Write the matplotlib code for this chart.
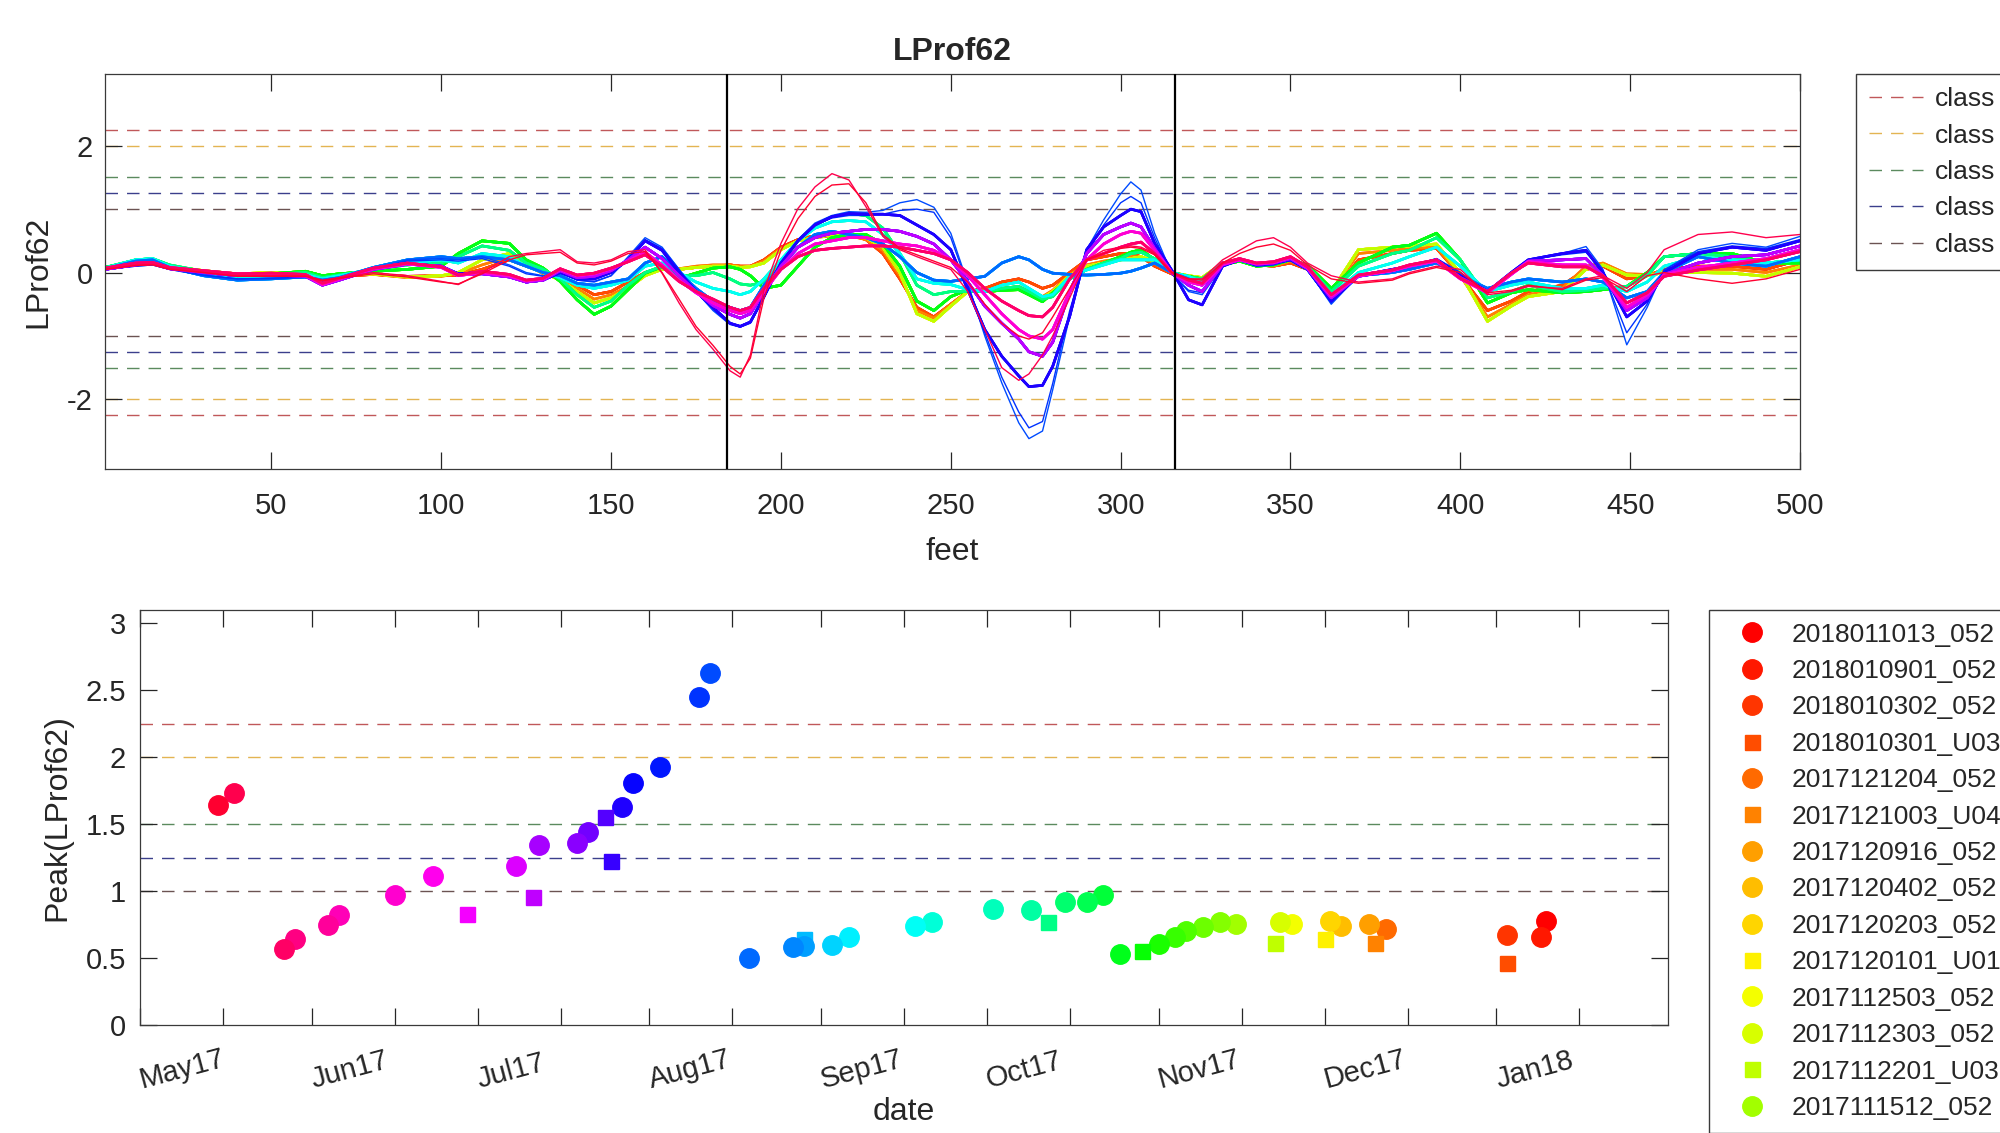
import numpy as np
import pandas as pd
import matplotlib
matplotlib.use("Agg")
import matplotlib.pyplot as plt
import matplotlib.dates as mdates
from matplotlib.lines import Line2D
from matplotlib.ticker import FormatStrFormatter

plt.rcParams["font.family"] = ["Liberation Sans", "DejaVu Sans"]
plt.rcParams["axes.unicode_minus"] = False

# ---- top panel: LProf62 profiles along the track ----
feet = [1, 10, 15, 20, 30, 40, 50, 60, 65, 70,
        80, 90, 100, 105, 112, 120, 125, 130, 135, 140,
        145, 150, 155, 160, 165, 170, 175, 180, 185, 188,
        191, 195, 200, 205, 210, 215, 220, 225, 230, 235,
        240, 245, 250, 255, 260, 265, 270, 273, 277, 280,
        285, 290, 295, 300, 303, 306, 310, 315, 320, 324,
        330, 335, 340, 345, 350, 355, 362, 370, 380, 385,
        393, 400, 408, 415, 420, 430, 437, 442, 449, 455,
        460, 470, 480, 490, 500]

prof_may_a = [0.05, 0.12, 0.13, 0.06, 0.0, -0.05, -0.05, -0.05, -0.12, -0.08,
              0.0, -0.05, -0.14, -0.19, 0.0, 0.25, 0.3, 0.33, 0.36, 0.17,
              0.15, 0.2, 0.33, 0.36, -0.01, -0.48, -0.9, -1.21, -1.55, -1.65,
              -1.3, -0.27, 0.46, 1.01, 1.35, 1.56, 1.46, 1.04, 0.57, 0.36,
              0.25, 0.15, 0.05, -0.3, -0.9, -1.5, -1.7, -1.6, -1.3, -1.0,
              -0.4, 0.2, 0.35, 0.4, 0.42, 0.4, 0.3, 0.0, -0.1, -0.1,
              0.2, 0.35, 0.5, 0.55, 0.4, 0.15, -0.05, -0.15, -0.1, 0.0,
              0.1, 0.05, -0.35, -0.3, -0.22, -0.25, -0.1, -0.05, -0.25, 0.0,
              0.36, 0.6, 0.64, 0.55, 0.6]
prof_may_b = [0.05, 0.11, 0.12, 0.05, 0.0, -0.06, -0.06, -0.06, -0.13, -0.09,
              -0.02, -0.07, -0.15, -0.18, -0.02, 0.2, 0.28, 0.3, 0.32, 0.15,
              0.12, 0.18, 0.3, 0.33, 0.0, -0.42, -0.85, -1.15, -1.48, -1.6,
              -1.35, -0.4, 0.35, 0.85, 1.2, 1.38, 1.4, 1.1, 0.6, 0.38,
              0.28, 0.18, 0.08, -0.15, -0.5, -0.8, -1.0, -1.05, -0.95, -0.7,
              -0.25, 0.2, 0.3, 0.38, 0.4, 0.38, 0.28, 0.0, -0.1, -0.12,
              0.15, 0.3, 0.4, 0.45, 0.35, 0.12, -0.1, -0.17, -0.12, -0.02,
              0.08, 0.0, -0.32, -0.28, -0.2, -0.27, -0.12, -0.08, -0.3, -0.05,
              0.0, -0.1, -0.17, -0.1, 0.05]
prof_pink = [0.07, 0.15, 0.16, 0.08, 0.03, -0.02, -0.01, -0.03, -0.17, -0.09,
             0.07, 0.15, 0.09, -0.04, 0.02, -0.03, -0.12, -0.09, 0.06, -0.04,
             -0.01, 0.07, 0.17, 0.28, 0.09, -0.14, -0.3, -0.42, -0.55, -0.6,
             -0.55, -0.25, 0.05, 0.25, 0.35, 0.38, 0.4, 0.42, 0.42, 0.4,
             0.35, 0.3, 0.2, 0.0, -0.25, -0.45, -0.6, -0.68, -0.7, -0.55,
             -0.1, 0.2, 0.3, 0.4, 0.45, 0.48, 0.3, 0.0, -0.12, -0.17,
             0.15, 0.22, 0.15, 0.17, 0.25, 0.09, -0.35, -0.04, 0.04, 0.12,
             0.2, -0.09, -0.3, -0.01, 0.15, 0.09, 0.09, -0.05, -0.48, -0.32,
             -0.06, 0.04, 0.12, 0.2, 0.33]
prof_pink2 = [0.06, 0.13, 0.15, 0.07, 0.02, -0.03, -0.02, -0.04, -0.19, -0.1,
              0.06, 0.14, 0.08, -0.05, 0.0, -0.05, -0.13, -0.1, 0.05, -0.05,
              -0.02, 0.06, 0.18, 0.32, 0.12, -0.12, -0.32, -0.48, -0.6, -0.65,
              -0.6, -0.3, 0.05, 0.3, 0.45, 0.5, 0.55, 0.55, 0.5, 0.45,
              0.42, 0.35, 0.2, -0.05, -0.35, -0.65, -0.9, -1.0, -1.05, -0.9,
              -0.3, 0.2, 0.45, 0.6, 0.65, 0.62, 0.35, 0.0, -0.15, -0.2,
              0.13, 0.2, 0.14, 0.16, 0.24, 0.08, -0.37, -0.05, 0.03, 0.1,
              0.18, -0.1, -0.32, -0.03, 0.17, 0.12, 0.12, -0.08, -0.55, -0.35,
              -0.04, 0.08, 0.15, 0.22, 0.36]
prof_magenta = [0.05, 0.12, 0.14, 0.06, 0.0, -0.05, -0.04, -0.06, -0.2, -0.12,
                0.05, 0.13, 0.1, -0.03, -0.02, -0.07, -0.15, -0.12, 0.03, -0.08,
                -0.06, 0.03, 0.2, 0.4, 0.22, -0.05, -0.3, -0.52, -0.66, -0.72,
                -0.65, -0.3, 0.1, 0.4, 0.55, 0.62, 0.65, 0.68, 0.68, 0.65,
                0.57, 0.45, 0.2, -0.15, -0.53, -0.8, -1.05, -1.25, -1.32, -1.1,
                -0.3, 0.3, 0.6, 0.72, 0.78, 0.72, 0.38, 0.0, -0.2, -0.3,
                0.12, 0.2, 0.13, 0.15, 0.22, 0.06, -0.4, -0.06, 0.03, 0.1,
                0.2, -0.08, -0.3, -0.02, 0.18, 0.2, 0.22, -0.05, -0.6, -0.4,
                -0.03, 0.15, 0.25, 0.28, 0.42]
prof_purple = [0.05, 0.12, 0.14, 0.07, 0.0, -0.05, -0.03, -0.05, -0.18, -0.1,
               0.06, 0.14, 0.1, -0.02, 0.0, -0.05, -0.15, -0.12, 0.0, -0.1,
               -0.1, 0.0, 0.2, 0.5, 0.35, 0.0, -0.3, -0.55, -0.8, -0.85,
               -0.78, -0.38, 0.15, 0.5, 0.75, 0.88, 0.93, 0.92, 0.92, 0.9,
               0.75, 0.6, 0.36, -0.27, -0.9, -1.32, -1.63, -1.8, -1.78, -1.48,
               -0.69, 0.36, 0.72, 0.9, 1.0, 0.96, 0.46, 0.04, -0.43, -0.51,
               0.1, 0.2, 0.12, 0.15, 0.2, 0.05, -0.45, -0.05, 0.05, 0.1,
               0.2, -0.05, -0.3, 0.0, 0.2, 0.3, 0.35, 0.0, -0.7, -0.45,
               0.0, 0.3, 0.4, 0.35, 0.5]
prof_blue_b = [0.05, 0.1, 0.12, 0.05, -0.04, -0.1, -0.09, -0.07, -0.15, -0.1,
               0.05, 0.18, 0.2, 0.18, 0.22, 0.1, -0.02, -0.06, 0.0, -0.12,
               -0.14, -0.05, 0.22, 0.52, 0.38, 0.05, -0.3, -0.58, -0.8, -0.84,
               -0.78, -0.4, 0.15, 0.5, 0.75, 0.86, 0.9, 0.9, 0.92, 0.98,
               1.0, 0.95, 0.55, -0.2, -0.95, -1.65, -2.2, -2.45, -2.35, -1.75,
               -0.6, 0.3, 0.75, 1.1, 1.2, 1.1, 0.55, -0.02, -0.28, -0.32,
               0.1, 0.2, 0.1, 0.12, 0.2, 0.05, -0.48, -0.05, 0.05, 0.1,
               0.22, 0.0, -0.32, 0.0, 0.2, 0.28, 0.32, 0.0, -0.95, -0.5,
               0.04, 0.33, 0.42, 0.38, 0.52]
prof_blue_a = [0.05, 0.1, 0.12, 0.05, -0.05, -0.1, -0.1, -0.08, -0.15, -0.1,
               0.05, 0.2, 0.22, 0.2, 0.25, 0.12, 0.0, -0.05, 0.0, -0.12,
               -0.15, -0.05, 0.25, 0.55, 0.4, 0.05, -0.3, -0.6, -0.82, -0.86,
               -0.8, -0.4, 0.15, 0.52, 0.78, 0.9, 0.96, 0.95, 0.98, 1.1,
               1.15, 1.03, 0.62, -0.17, -1.0, -1.74, -2.37, -2.62, -2.5, -1.85,
               -0.69, 0.36, 0.83, 1.24, 1.43, 1.3, 0.62, -0.01, -0.3, -0.35,
               0.1, 0.2, 0.1, 0.12, 0.2, 0.05, -0.5, -0.05, 0.05, 0.1,
               0.22, 0.0, -0.32, 0.0, 0.2, 0.3, 0.41, 0.05, -1.14, -0.55,
               0.04, 0.36, 0.46, 0.4, 0.57]
prof_ltblue = [0.06, 0.18, 0.2, 0.08, -0.05, -0.12, -0.1, -0.07, -0.12, -0.08,
               0.08, 0.2, 0.25, 0.22, 0.25, 0.2, 0.1, 0.0, -0.05, -0.17,
               -0.2, -0.15, -0.1, 0.15, 0.25, 0.0, -0.25, -0.45, -0.55, -0.6,
               -0.55, -0.2, 0.1, 0.4, 0.6, 0.65, 0.6, 0.55, 0.45, 0.25,
               0.0, -0.12, -0.14, -0.1, -0.06, 0.15, 0.25, 0.2, 0.05, -0.01,
               -0.03, -0.04, -0.03, -0.01, 0.02, 0.07, 0.15, 0.0, -0.1, -0.2,
               0.12, 0.2, 0.12, 0.15, 0.2, 0.05, -0.45, -0.05, 0.0, 0.05,
               0.15, -0.05, -0.25, -0.15, -0.1, -0.15, -0.1, -0.15, -0.4, -0.3,
               0.0, 0.25, 0.15, 0.1, 0.25]
prof_cyan = [0.07, 0.2, 0.22, 0.1, 0.0, -0.08, -0.05, -0.03, -0.1, -0.05,
             0.05, 0.15, 0.2, 0.15, 0.3, 0.25, 0.1, 0.0, -0.08, -0.2,
             -0.25, -0.2, -0.12, 0.1, 0.15, 0.0, -0.15, -0.25, -0.3, -0.35,
             -0.3, -0.1, 0.2, 0.5, 0.7, 0.8, 0.82, 0.8, 0.6, 0.3,
             -0.1, -0.17, -0.19, -0.27, -0.3, -0.2, -0.15, -0.25, -0.38, -0.35,
             -0.06, 0.04, 0.12, 0.2, 0.2, 0.2, 0.2, 0.0, -0.06, -0.15,
             0.15, 0.2, 0.12, 0.15, 0.2, 0.05, -0.35, 0.0, 0.15, 0.25,
             0.4, 0.1, -0.3, -0.2, -0.15, -0.25, -0.25, -0.2, -0.3, -0.15,
             0.1, 0.25, 0.2, 0.15, 0.2]
prof_aqua = [0.08, 0.2, 0.22, 0.12, 0.02, -0.05, -0.03, 0.0, -0.08, -0.04,
             0.05, 0.12, 0.15, 0.25, 0.42, 0.35, 0.15, 0.05, -0.1, -0.35,
             -0.55, -0.45, -0.2, 0.0, 0.1, -0.05, -0.05, 0.0, -0.1, -0.18,
             -0.2, -0.15, 0.15, 0.5, 0.75, 0.88, 0.93, 0.9, 0.7, 0.3,
             -0.2, -0.35, -0.3, -0.3, -0.3, -0.25, -0.22, -0.3, -0.42, -0.38,
             -0.1, 0.05, 0.15, 0.22, 0.3, 0.32, 0.22, 0.0, -0.07, -0.1,
             0.15, 0.2, 0.12, 0.15, 0.22, 0.1, -0.3, 0.1, 0.3, 0.35,
             0.55, 0.2, -0.4, -0.3, -0.2, -0.3, -0.28, -0.25, -0.22, -0.05,
             0.25, 0.3, 0.25, 0.15, 0.2]
prof_green = [0.08, 0.18, 0.2, 0.1, 0.02, -0.03, -0.02, 0.02, -0.05, -0.02,
              0.02, 0.05, 0.1, 0.3, 0.5, 0.46, 0.2, 0.07, -0.14, -0.43,
              -0.66, -0.53, -0.27, -0.01, 0.09, -0.09, -0.01, 0.07, 0.09, 0.05,
              -0.05, -0.25, -0.2, 0.1, 0.4, 0.55, 0.6, 0.6, 0.45, 0.1,
              -0.45, -0.6, -0.38, -0.27, -0.3, -0.28, -0.27, -0.35, -0.46, -0.32,
              -0.1, 0.05, 0.15, 0.25, 0.32, 0.36, 0.2, 0.0, -0.06, -0.1,
              0.12, 0.18, 0.1, 0.12, 0.2, 0.12, -0.25, 0.15, 0.4, 0.43,
              0.62, 0.2, -0.48, -0.32, -0.27, -0.32, -0.3, -0.27, -0.22, 0.0,
              0.25, 0.3, 0.3, 0.15, 0.15]
prof_yellow = [0.08, 0.15, 0.17, 0.1, 0.03, -0.02, 0.0, 0.0, -0.08, -0.04,
               -0.02, -0.07, -0.05, 0.0, 0.2, 0.3, 0.15, 0.0, -0.12, -0.3,
               -0.48, -0.4, -0.25, -0.05, 0.05, 0.05, 0.08, 0.1, 0.1, 0.08,
               0.09, 0.15, 0.36, 0.5, 0.55, 0.6, 0.6, 0.55, 0.4, 0.0,
               -0.65, -0.77, -0.53, -0.3, -0.3, -0.28, -0.25, -0.32, -0.4, -0.3,
               -0.05, 0.1, 0.15, 0.2, 0.22, 0.25, 0.18, 0.0, -0.05, -0.08,
               0.15, 0.2, 0.12, 0.12, 0.2, 0.1, -0.3, 0.36, 0.4, 0.42,
               0.45, -0.01, -0.77, -0.53, -0.38, -0.3, 0.05, 0.12, -0.04, -0.05,
               0.0, 0.0, -0.01, -0.06, 0.09]
prof_orange = [0.07, 0.14, 0.16, 0.09, 0.03, -0.03, 0.0, 0.0, -0.1, -0.05,
               -0.03, -0.08, -0.06, -0.02, 0.12, 0.25, 0.12, -0.02, -0.1, -0.25,
               -0.42, -0.35, -0.22, -0.03, 0.06, 0.06, 0.1, 0.12, 0.12, 0.1,
               0.1, 0.18, 0.38, 0.5, 0.55, 0.58, 0.58, 0.52, 0.35, -0.05,
               -0.6, -0.72, -0.5, -0.3, -0.28, -0.25, -0.22, -0.3, -0.38, -0.28,
               -0.03, 0.12, 0.18, 0.22, 0.25, 0.25, 0.15, 0.0, -0.06, -0.1,
               0.15, 0.2, 0.12, 0.1, 0.18, 0.08, -0.32, 0.3, 0.35, 0.38,
               0.4, -0.05, -0.7, -0.5, -0.35, -0.25, 0.1, 0.15, -0.02, -0.03,
               0.02, 0.05, 0.05, 0.0, 0.12]
prof_late = [0.07, 0.13, 0.15, 0.08, 0.02, -0.04, -0.02, -0.01, -0.12, -0.06,
             -0.03, -0.06, -0.05, -0.04, 0.05, 0.2, 0.1, 0.0, -0.08, -0.2,
             -0.35, -0.3, -0.15, 0.0, 0.08, 0.05, 0.08, 0.1, 0.12, 0.1,
             0.1, 0.2, 0.4, 0.52, 0.58, 0.62, 0.6, 0.52, 0.3, -0.1,
             -0.55, -0.7, -0.5, -0.3, -0.25, -0.15, -0.1, -0.15, -0.25, -0.2,
             0.0, 0.2, 0.25, 0.3, 0.3, 0.25, 0.1, -0.02, -0.1, -0.12,
             0.12, 0.2, 0.12, 0.1, 0.15, 0.05, -0.35, 0.2, 0.3, 0.35,
             0.38, -0.05, -0.6, -0.45, -0.3, -0.2, 0.05, 0.1, -0.1, -0.05,
             0.05, 0.1, 0.1, 0.05, 0.2]

profiles = {
    "may_a": prof_may_a, "may_b": prof_may_b, "pink": prof_pink,
    "pink2": prof_pink2, "magenta": prof_magenta, "purple": prof_purple,
    "blue_a": prof_blue_a, "blue_b": prof_blue_b, "ltblue": prof_ltblue,
    "cyan": prof_cyan, "aqua": prof_aqua, "green": prof_green,
    "yellow": prof_yellow, "orange": prof_orange, "late": prof_late,
}
thin_groups = ["may_a", "may_b", "blue_a", "blue_b"]

# vertical markers on the profile plot (feet)
cut_feet = [184, 316]

# ---- bottom panel: survey peaks, newest first (plot / legend order) ----
survey_dates = [
    "2018-01-10", "2018-01-09", "2018-01-03", "2018-01-03", "2017-12-12",
    "2017-12-10", "2017-12-09", "2017-12-04", "2017-12-02", "2017-12-01",
    "2017-11-25", "2017-11-23", "2017-11-22", "2017-11-15", "2017-11-12",
    "2017-11-09", "2017-11-06", "2017-11-04", "2017-11-01", "2017-10-29",
    "2017-10-25", "2017-10-22", "2017-10-19", "2017-10-15", "2017-10-12",
    "2017-10-09", "2017-10-02", "2017-09-21", "2017-09-18", "2017-09-06",
    "2017-09-03", "2017-08-29", "2017-08-29", "2017-08-27", "2017-08-19",
    "2017-08-12", "2017-08-10", "2017-08-03", "2017-07-29", "2017-07-27",
    "2017-07-25", "2017-07-24", "2017-07-21", "2017-07-19", "2017-07-12",
    "2017-07-11", "2017-07-08", "2017-06-29", "2017-06-23", "2017-06-16",
    "2017-06-06", "2017-06-04", "2017-05-29", "2017-05-27", "2017-05-18",
    "2017-05-15",
]
peak_values = [
    0.78, 0.654, 0.67, 0.465, 0.717, 0.616, 0.755, 0.742, 0.78, 0.64,
    0.755, 0.773, 0.616, 0.755, 0.768, 0.73, 0.705, 0.654, 0.604, 0.553,
    0.53, 0.97, 0.92, 0.92, 0.77, 0.857, 0.864, 0.77, 0.74, 0.66,
    0.60, 0.64, 0.59, 0.58, 0.497, 2.63, 2.45, 1.93, 1.805, 1.63,
    1.225, 1.553, 1.444, 1.356, 1.346, 0.955, 1.19, 0.83, 1.116, 0.97,
    0.82, 0.745, 0.64, 0.57, 1.73, 1.64,
]
marker_kind = [
    "o", "o", "o", "s", "o", "s", "o", "o", "o", "s",
    "o", "o", "s", "o", "o", "o", "o", "o", "o", "s",
    "o", "o", "o", "o", "s", "o", "o", "o", "o", "o",
    "o", "s", "o", "o", "o", "o", "o", "o", "o", "o",
    "s", "s", "o", "o", "o", "s", "o", "s", "o", "o",
    "o", "o", "o", "o", "o", "o",
]
profile_group = (["late"] * 4 + ["orange"] * 2 + ["yellow"] * 7 + ["green"] * 8
                 + ["aqua"] * 4 + ["cyan"] * 4 + ["ltblue"] * 6
                 + ["blue_a", "blue_b"] + ["purple"] * 3 + ["magenta"] * 6
                 + ["pink2"] * 4 + ["pink"] * 4 + ["may_a", "may_b"])
legend_names = [
    "2018011013_052", "2018010901_052", "2018010302_052", "2018010301_U03",
    "2017121204_052", "2017121003_U04", "2017120916_052", "2017120402_052",
    "2017120203_052", "2017120101_U01", "2017112503_052", "2017112303_052",
    "2017112201_U03", "2017111512_052",
]

class_levels = [2.25, 2.0, 1.5, 1.25, 1.0]
class_labels = ["class", "class", "class", "class", "class"]
class_colors = ["#c0585a", "#e3b452", "#5b8a5e", "#3b3f8c", "#6b5352"]

month_ticks = pd.date_range("2017-05-01", "2018-01-01", freq="MS")
mid_ticks = month_ticks + pd.Timedelta(days=15)

DASH = (0, (9, 6.5))
INK = "#262626"

n = len(survey_dates)
cmap = plt.get_cmap("hsv")
colors = [cmap(k / n) for k in range(n)]

fig = plt.figure(figsize=(20, 11.33), dpi=100)
ax1 = fig.add_axes([0.0525, 0.586, 0.8475, 0.3486])
ax2 = fig.add_axes([0.07, 0.0953, 0.764, 0.3663])

for ax in (ax1, ax2):
    for s in ax.spines.values():
        s.set_color("#3a3a3a")
        s.set_linewidth(0.9)
    ax.tick_params(which="both", direction="in", top=True, right=True,
                   length=12, width=0.9, color=INK, labelcolor=INK,
                   labelsize=21)

# top panel
for k in range(n):
    grp = profile_group[k]
    ax1.plot(feet, profiles[grp], color=colors[k],
             lw=1.0 if grp in thin_groups else 1.9, zorder=2)
for lev, c in zip(class_levels, class_colors):
    ax1.axhline(lev, color=c, ls=DASH, lw=1.0, zorder=1)
    ax1.axhline(-lev, color=c, ls=DASH, lw=1.0, zorder=1)
for f in cut_feet:
    ax1.axvline(f, color="black", lw=1.6, zorder=3)

ax1.set_xlim(1, 500)
ax1.set_ylim(-3.1, 3.13)
ax1.set_xticks(range(50, 501, 50))
ax1.set_yticks([-2, 0, 2])
ax1.tick_params(axis="x", pad=16.5)
ax1.tick_params(axis="y", pad=9)
ax1.set_xlabel("feet", fontsize=23, color=INK, va="center")
ax1.xaxis.set_label_coords(0.5, -0.21)
ax1.set_ylabel("LProf62", fontsize=23, color=INK, va="center")
ax1.yaxis.set_label_coords(-0.0395, 0.5)
ax1.text(0.5, 1.056, "LProf62", transform=ax1.transAxes, ha="center",
         va="center", fontsize=23, fontweight="bold", color=INK)

class_handles = [Line2D([], [], color=c, ls=DASH, lw=1.0) for c in class_colors]
fig.legend(class_handles, class_labels, loc="upper left",
           bbox_to_anchor=(0.928, 1 - 74 / 1133), borderaxespad=0,
           fontsize=19, frameon=True, fancybox=False, edgecolor="#3a3a3a",
           framealpha=1, borderpad=0.5, handlelength=2.05, handletextpad=0.45,
           labelspacing=0.47, labelcolor=INK)

# bottom panel
xnum = mdates.date2num(pd.to_datetime(survey_dates).to_pydatetime())
point_handles = []
for k in range(n):
    ms = 14 if marker_kind[k] == "o" else 10.8
    h, = ax2.plot(xnum[k], peak_values[k], marker=marker_kind[k], ls="none",
                  ms=ms, color=colors[k], mec=colors[k], zorder=3)
    point_handles.append(h)
for lev, c in zip(class_levels, class_colors):
    ax2.axhline(lev, color=c, ls=DASH, lw=1.0, zorder=1)

ax2.set_xlim(mdates.date2num(pd.Timestamp("2017-05-01")),
             mdates.date2num(pd.Timestamp("2018-02-01")))
ax2.set_ylim(0, 3.1)
ax2.set_yticks(np.arange(0, 3.01, 0.5))
ax2.yaxis.set_major_formatter(FormatStrFormatter("%g"))
ax2.set_xticks(mdates.date2num(month_ticks.to_pydatetime()))
ax2.set_xticks(mdates.date2num(mid_ticks.to_pydatetime()), minor=True)
ax2.set_xticklabels([d.strftime("%b%y") for d in month_ticks])
ax2.tick_params(axis="x", which="major", pad=40)
ax2.tick_params(axis="y", pad=10)
for lbl in ax2.get_xticklabels():
    lbl.set_rotation(15)
    lbl.set_rotation_mode("anchor")
    lbl.set_ha("left")
    lbl.set_va("center")
ax2.set_xlabel("date", fontsize=23, color=INK, va="center")
ax2.xaxis.set_label_coords(0.5, -0.21)
ax2.set_ylabel("Peak(LProf62)", fontsize=23, color=INK, va="center")
ax2.yaxis.set_label_coords(-0.0543, 0.5)

fig.legend(point_handles[:len(legend_names)], legend_names, loc="upper left",
           bbox_to_anchor=(0.8545, 1 - 610 / 1133), borderaxespad=0,
           fontsize=19, frameon=True, fancybox=False, edgecolor="#3a3a3a",
           framealpha=1, borderpad=0.48, handlelength=2.3, handletextpad=0.36,
           labelspacing=0.47, labelcolor=INK, numpoints=1)

fig.savefig("out.png", dpi=100)
